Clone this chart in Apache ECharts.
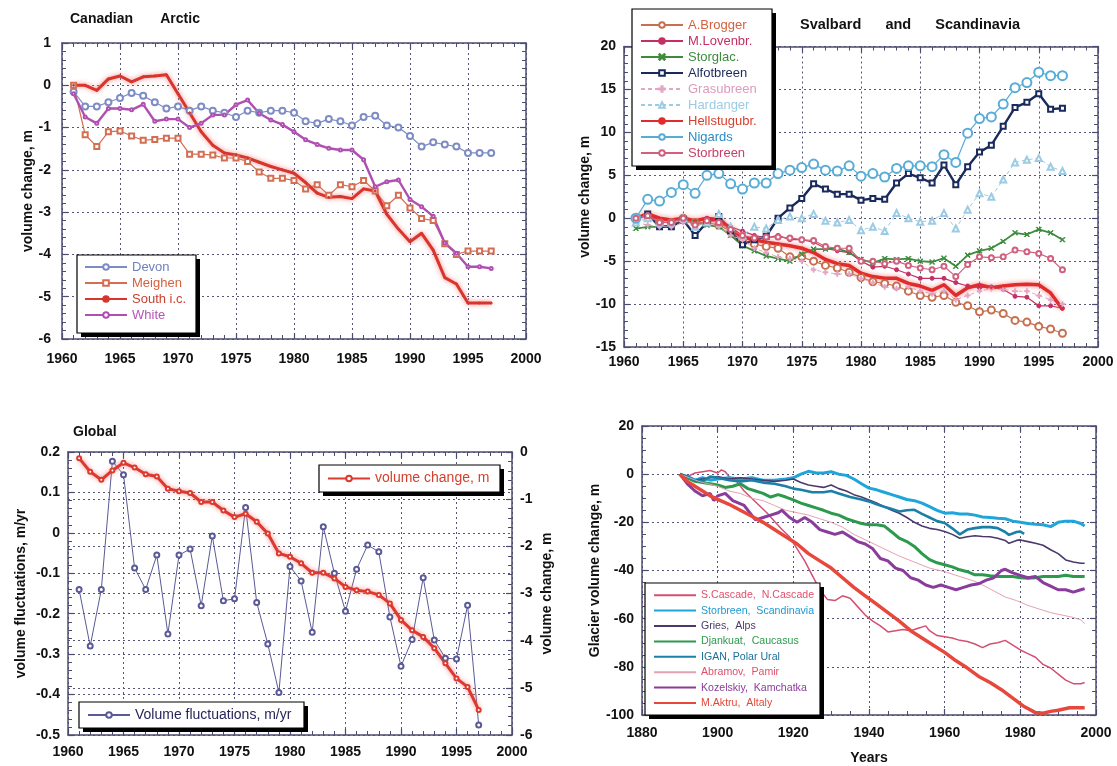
<!DOCTYPE html>
<html><head><meta charset="utf-8">
<script src="https://cdn.jsdelivr.net/npm/echarts@6/dist/echarts.min.js"></script>
<style>html,body{margin:0;padding:0;background:#fff}#c{width:1117px;height:766px}</style>
</head><body><div id="c"></div>
<script>
// ---------- DATA ----------
const years = [1961,1962,1963,1964,1965,1966,1967,1968,1969,1970,1971,1972,1973,1974,1975,1976,1977,1978,1979,1980,1981,1982,1983,1984,1985,1986,1987,1988,1989,1990,1991,1992,1993,1994,1995,1996,1997];

// Panel 1: Canadian Arctic
const devon   = [-0.15,-0.5,-0.5,-0.4,-0.3,-0.18,-0.25,-0.4,-0.55,-0.5,-0.6,-0.5,-0.6,-0.65,-0.75,-0.6,-0.65,-0.6,-0.6,-0.65,-0.85,-0.9,-0.8,-0.85,-0.95,-0.75,-0.72,-0.95,-1.0,-1.2,-1.45,-1.35,-1.4,-1.45,-1.6,-1.6,-1.6];
const meighen = [0.0,-1.17,-1.45,-1.1,-1.08,-1.2,-1.3,-1.28,-1.25,-1.25,-1.63,-1.63,-1.65,-1.72,-1.72,-1.8,-2.05,-2.2,-2.2,-2.25,-2.45,-2.35,-2.6,-2.35,-2.4,-2.25,-2.5,-2.85,-2.6,-2.9,-3.15,-3.2,-3.75,-4.0,-3.92,-3.92,-3.92];
const southIC = [0.0,0.0,-0.12,0.15,0.22,0.08,0.2,0.22,0.25,-0.2,-0.65,-1.1,-1.42,-1.6,-1.65,-1.72,-1.82,-1.92,-2.0,-2.08,-2.3,-2.55,-2.65,-2.63,-2.68,-2.45,-2.5,-3.05,-3.4,-3.7,-3.5,-3.9,-4.55,-4.7,-5.15,-5.15,-5.15];
const white   = [-0.2,-0.75,-0.9,-0.55,-0.55,-0.58,-0.45,-0.85,-0.8,-0.8,-1.0,-0.9,-0.7,-0.7,-0.46,-0.35,-0.66,-0.82,-0.93,-1.1,-1.29,-1.4,-1.49,-1.53,-1.53,-1.76,-2.4,-2.28,-2.24,-2.7,-2.87,-3.1,-3.73,-3.97,-4.29,-4.29,-4.33];

// Panel 2: Svalbard and Scandinavia
const aBrogger   = [0,0.3,-0.5,-0.5,0,-0.5,-0.5,-0.8,-1.5,-2.5,-3,-3.3,-3.5,-4.5,-4.5,-5,-5.5,-5.8,-6.3,-6.9,-7.4,-7.6,-7.9,-8.5,-9,-9.2,-9,-9.8,-10.2,-10.9,-10.7,-11.1,-11.9,-12.1,-12.6,-12.9,-13.4];
const mLovenbr   = [0,0.5,-0.3,-0.3,0,-0.5,0,0,-1,-1.5,-2,-2.3,-2,-2.5,-2.5,-2.8,-3.5,-3.8,-4,-5,-5.7,-5.6,-6,-6.5,-7,-7,-7,-7.5,-7.9,-8.1,-8,-8.3,-9.1,-9.2,-10.2,-10.2,-10.5];
const storglac   = [-1.2,-1,-1,-0.8,-0.3,-0.5,-0.8,-1,-2,-3.2,-3.8,-4.4,-4.7,-5,-4.2,-3.6,-3.6,-3.5,-4,-4.8,-5.2,-4.7,-4.8,-4.7,-5,-5.1,-4.65,-5.6,-4.3,-3.8,-3.5,-2.7,-1.7,-1.9,-1.3,-1.7,-2.5];
const alfotbreen = [0,0.5,-1,-1,-0.2,-2,-0.5,0.2,-1.5,-3.1,-2.5,-2.1,0,1.2,2.3,4,3.4,2.8,2.8,2.1,2.3,2.2,4.1,5.2,4.7,4.1,6.2,3.9,6,7.7,8.5,10.7,12.9,13.5,14.5,12.7,12.8];
const grasubreen = [-0.5,-0.8,-1,-1,-0.5,-1,-0.5,-1,-2,-2.5,-3.5,-4,-4.5,-4.7,-5,-6,-6.3,-6.5,-6.5,-7,-7.5,-8,-8.2,-8,-8.5,-8.8,-8.5,-9.5,-9,-8.5,-8.2,-8.3,-8.5,-8.5,-9,-9.5,-10];
const hardanger  = [-0.5,0,-0.5,-0.5,0,-1,-0.5,0.5,-1,-2,-1,-1.2,-0.2,0.2,0,0.5,-0.3,-0.5,-0.2,-1.4,-1,-1.5,0.6,0,-0.4,-0.3,0.6,-1.2,1,2.9,2.5,4.5,6.5,6.8,7,6,5.5];
const hellstugubr= [0,0.5,0,-0.2,0,-0.3,0,-0.2,-1.2,-2.2,-2.5,-2.8,-3,-3.2,-3.5,-4,-4.8,-5.3,-5.5,-6.4,-6.8,-7,-7,-7.6,-7.9,-8.4,-7.75,-9,-8.1,-7.75,-8.1,-7.9,-7.75,-7.7,-7.75,-8.7,-10.6];
const nigards    = [0,2.2,2,3,3.9,2.9,5,5.2,4,3.4,4.1,4.1,5.2,5.6,5.9,6.3,5.6,5.5,6.1,4.9,5.2,4.8,5.8,6.1,6.1,6,7.4,6.5,9.9,11.6,11.8,13.3,15.2,15.8,17,16.6,16.6];
const storbreen  = [0,0.3,-0.5,-0.5,0,-0.8,-0.3,-0.5,-1.3,-2,-2.3,-2.2,-2.2,-2.3,-2.5,-2.6,-3.3,-3.5,-3.5,-5,-5,-5.3,-5,-5.5,-5.8,-6,-5.6,-6.8,-5.4,-4.5,-4.6,-4.5,-3.7,-3.9,-4.1,-4.7,-6];

// Panel 3: Global
const fluct     = [-0.14,-0.28,-0.14,0.177,0.144,-0.087,-0.14,-0.055,-0.25,-0.055,-0.04,-0.18,-0.008,-0.168,-0.163,0.063,-0.172,-0.275,-0.395,-0.083,-0.119,-0.246,0.015,-0.1,-0.194,-0.09,-0.03,-0.047,-0.208,-0.33,-0.264,-0.111,-0.265,-0.31,-0.312,-0.179,-0.475];
const volChange = [-0.13,-0.42,-0.59,-0.39,-0.23,-0.33,-0.47,-0.52,-0.78,-0.83,-0.87,-1.06,-1.06,-1.24,-1.38,-1.31,-1.48,-1.73,-2.15,-2.22,-2.36,-2.56,-2.56,-2.68,-2.86,-2.93,-2.96,-3.03,-3.21,-3.56,-3.78,-3.92,-4.16,-4.48,-4.8,-4.98,-5.47];

// Panel 4: long records [year, m]
const sCascade = [[1890,0],[1892,-1],[1894,0.5],[1896,1],[1898,1.5],[1900,0.5],[1901,1.8],[1902,1],[1903,-1],[1905,-3],[1907,-7],[1909,-10],[1911,-13],[1913,-16],[1915,-19.5],[1917,-23],[1919,-26],[1921,-31],[1923,-36],[1925,-42],[1927,-48],[1929,-52],[1931,-52.5],[1933,-50.5],[1935,-51.5],[1937,-55],[1939,-58.5],[1941,-61],[1943,-63],[1945,-65.5],[1947,-65],[1949,-64.5],[1951,-65],[1953,-64],[1955,-63],[1956,-65],[1958,-67],[1960,-67.5],[1962,-68],[1964,-69],[1966,-69.5],[1968,-70.5],[1970,-72],[1972,-70.5],[1974,-70],[1976,-69],[1978,-71],[1980,-73],[1982,-74.5],[1984,-76],[1986,-79],[1988,-80.5],[1990,-83],[1992,-85.5],[1994,-87],[1996,-87],[1997,-86.5]];
const storbreenScand = [[1890,0],[1892,-1],[1894,-2.5],[1896,-1.5],[1898,-2.5],[1900,-2],[1903,-1.5],[1906,-2],[1909,-1.5],[1912,-2.5],[1915,-2.5],[1918,-2],[1920,-1.5],[1922,0],[1924,1.2],[1926,0.5],[1928,0.5],[1930,1],[1932,0],[1934,-0.5],[1936,-2],[1938,-4],[1940,-5.8],[1942,-6.5],[1944,-7.5],[1946,-8.5],[1948,-9.5],[1950,-10.5],[1952,-11],[1954,-12],[1956,-13.5],[1958,-15],[1960,-16.2],[1962,-16],[1964,-16.5],[1966,-16.5],[1968,-17],[1970,-17.8],[1972,-18],[1974,-18.3],[1976,-18.5],[1978,-19.5],[1980,-20],[1982,-20.5],[1984,-20.8],[1986,-21],[1988,-21.8],[1990,-20],[1992,-19.5],[1994,-19.5],[1996,-20.5],[1997,-21.5]];
const gries = [[1890,0],[1892,-1.5],[1894,-2.5],[1896,-2],[1898,-1.5],[1900,-1],[1903,-2],[1906,-1.5],[1909,-2],[1912,-2.5],[1915,-3],[1918,-2.5],[1920,-2],[1922,-3.5],[1924,-4.5],[1926,-5],[1928,-5.5],[1930,-4.5],[1932,-6],[1934,-7],[1936,-8.5],[1938,-9.5],[1940,-10.7],[1942,-12],[1944,-13.5],[1946,-15],[1948,-16.2],[1950,-18],[1952,-20],[1954,-21.5],[1956,-22.5],[1958,-23],[1960,-23.8],[1962,-25],[1964,-26.6],[1966,-26],[1968,-25.6],[1970,-25.9],[1972,-26],[1974,-26.6],[1976,-27.5],[1977,-28.7],[1979,-27.5],[1980,-27.3],[1982,-28],[1984,-28.7],[1986,-29.5],[1988,-31.4],[1990,-33],[1992,-35.6],[1994,-36.5],[1996,-37],[1997,-37]];
const djankuat = [[1890,0],[1892,-1.5],[1894,-3],[1896,-3.5],[1898,-4],[1900,-4.5],[1902,-5.5],[1904,-5],[1906,-4],[1908,-6],[1910,-7],[1912,-8],[1914,-9.5],[1916,-8.5],[1918,-9.5],[1920,-10.7],[1922,-12],[1924,-13],[1926,-14],[1928,-15],[1930,-16.2],[1932,-17],[1934,-18.5],[1936,-19.5],[1938,-20.5],[1940,-21],[1942,-21],[1944,-21.5],[1946,-24],[1948,-26.6],[1950,-28],[1952,-30],[1954,-33],[1956,-35.5],[1958,-36.8],[1960,-37.6],[1962,-38.5],[1964,-39.7],[1966,-40.5],[1968,-41.8],[1970,-41.8],[1972,-42.2],[1974,-42.5],[1976,-42.5],[1978,-42.5],[1980,-43],[1982,-43.2],[1984,-43],[1986,-42.5],[1988,-42.5],[1990,-42.5],[1992,-42],[1994,-42.5],[1996,-42.5],[1997,-42.5]];
const igan = [[1890,0],[1892,-1],[1894,-2.5],[1896,-3],[1898,-1],[1900,-1.5],[1903,-2.5],[1906,-3],[1909,-2.5],[1912,-3.5],[1915,-4],[1918,-5],[1920,-6],[1922,-6.5],[1925,-7.5],[1928,-7.5],[1930,-7],[1932,-8],[1935,-9.5],[1938,-10.5],[1940,-11.3],[1942,-12.5],[1944,-13.5],[1946,-14.5],[1948,-15.5],[1950,-15],[1952,-14.8],[1954,-16.5],[1956,-18],[1958,-19.5],[1960,-20.3],[1962,-22.5],[1964,-25],[1966,-23],[1968,-22.4],[1970,-22],[1972,-22],[1974,-22.4],[1976,-24],[1977,-25.2],[1979,-24],[1980,-23.8],[1981,-24.8]];
const abramov = [[1890,0],[1895,-3],[1900,-5],[1903,-7],[1906,-8],[1909,-10],[1912,-11],[1915,-13],[1918,-15],[1921,-16],[1924,-17],[1927,-18.5],[1930,-20],[1933,-22],[1936,-25],[1940,-28],[1944,-31],[1948,-34],[1952,-36.5],[1956,-39],[1960,-40.5],[1964,-42.5],[1968,-44.5],[1970,-46],[1973,-48.5],[1976,-51],[1979,-52.5],[1982,-54.5],[1985,-56],[1988,-57.5],[1991,-58.5],[1994,-59.5],[1996,-60.5],[1997,-62]];
const kozelskiy = [[1890,0],[1892,-4],[1894,-7],[1896,-9],[1898,-8],[1899,-11],[1900,-9],[1902,-8],[1904,-11],[1907,-13],[1909,-17],[1910,-19],[1912,-18],[1914,-17],[1916,-16],[1917,-15],[1919,-18],[1921,-20],[1923,-18],[1925,-20],[1927,-23],[1929,-24],[1931,-25],[1933,-24],[1935,-26],[1937,-28],[1939,-29],[1941,-31],[1943,-35],[1945,-36],[1947,-39],[1949,-40],[1951,-43],[1953,-44],[1955,-46],[1957,-47],[1959,-46],[1961,-47],[1963,-48],[1965,-47],[1967,-46],[1969,-45.5],[1971,-44],[1973,-43],[1975,-40],[1976,-39.5],[1978,-41],[1980,-42],[1982,-43],[1984,-42.5],[1986,-45],[1988,-46.5],[1990,-48],[1992,-48],[1994,-49],[1996,-48],[1997,-47.5]];
const mAktru = [[1890,0],[1892,-3],[1894,-5],[1896,-7],[1898,-9],[1900,-10.5],[1903,-12.5],[1906,-15],[1909,-17.5],[1912,-20],[1915,-23],[1918,-26],[1921,-29],[1924,-33],[1927,-36],[1930,-39],[1933,-43],[1936,-47],[1939,-50.5],[1942,-54],[1945,-57.5],[1948,-61],[1951,-65],[1954,-68],[1957,-71],[1960,-74],[1963,-77.5],[1966,-80.5],[1969,-84],[1972,-86.5],[1975,-89.5],[1978,-93],[1981,-96.5],[1984,-99],[1986,-99.3],[1988,-98.5],[1990,-98],[1993,-97],[1995,-97],[1997,-97]];

// ---------- STYLE / LAYOUT ----------
const FONT = '"Liberation Sans", Arial, sans-serif';
const AX = '#4c4c70';
const GRIDC = '#55557a';
const grids = [
  {left: 62, top: 43, width: 464, height: 296},
  {left: 624, top: 46.5, width: 474, height: 300.5},
  {left: 68, top: 452, width: 444, height: 283},
  {left: 642, top: 426, width: 454, height: 289}
];
const xAxes = [], yAxes = [];
const labelStyle = {show: true, color: '#111', fontFamily: FONT, fontSize: 14, fontWeight: 'bold', margin: 8};
const splitStyle = {show: true, lineStyle: {color: GRIDC, type: [2, 3], width: 1}};
function base(min, max, interval, minor) {
  return {type: 'value', min, max, interval,
    axisLine: {show: true, onZero: false, lineStyle: {color: AX, width: 1.5}},
    axisTick: {show: true, inside: true, length: 6, lineStyle: {color: AX, width: 1.2}},
    minorTick: {show: true, splitNumber: minor, length: 4, lineStyle: {color: AX, width: 1}},
    splitLine: {show: false}, minorSplitLine: {show: false}, axisLabel: {show: false}};
}
const nameStyle = {fontFamily: FONT, fontSize: 14, fontWeight: 'bold', color: '#111'};
function addPanel(g, xr, yr, extra) {
  const bx = base(xr[0], xr[1], xr[2], xr[3]);
  Object.assign(bx, {gridIndex: g, position: 'bottom', axisLabel: Object.assign({}, labelStyle, {formatter: v => String(v), margin: extra.xm}), splitLine: splitStyle}, extra.x || {});
  const tx = base(xr[0], xr[1], xr[2], xr[3]);
  Object.assign(tx, {gridIndex: g, position: 'top'});
  const ly = base(yr[0], yr[1], yr[2], yr[3]);
  Object.assign(ly, {gridIndex: g, position: 'left',
    axisLabel: Object.assign({}, labelStyle, {formatter: extra.yfmt || (v => String(v)), margin: extra.ym}), splitLine: splitStyle,
    name: extra.yname, nameLocation: 'middle', nameGap: extra.ygap, nameRotate: 90, nameTextStyle: nameStyle});
  let ry;
  if (extra.ry) {
    const r = extra.ry;
    ry = base(r[0], r[1], r[2], r[3]);
    Object.assign(ry, {gridIndex: g, position: 'right', axisLabel: Object.assign({}, labelStyle, {formatter: v => String(v)}), splitLine: splitStyle,
      name: extra.ryname, nameLocation: 'middle', nameGap: extra.rygap, nameRotate: 90, nameTextStyle: nameStyle});
  } else {
    ry = base(yr[0], yr[1], yr[2], yr[3]);
    Object.assign(ry, {gridIndex: g, position: 'right'});
  }
  xAxes.push(bx, tx); yAxes.push(ly, ry);
}
addPanel(0, [1960, 2000, 5, 5], [-6, 1, 1, 5], {yname: 'volume change, m', ygap: 24, xm: 13, ym: 11});
addPanel(1, [1960, 2000, 5, 5], [-15, 20, 5, 5], {yname: 'volume change, m', ygap: 30, xm: 8, ym: 8});
addPanel(2, [1960, 2000, 5, 5], [-0.5, 0.2, 0.1, 5], {yname: 'volume fluctuations, m/yr', ygap: 40, xm: 10, ym: 8,
  yfmt: v => String(Math.round(v * 10) / 10), ry: [-6, 0, 1, 5], ryname: 'volume change, m', rygap: 28});
addPanel(3, [1880, 2000, 20, 4], [-100, 20, 20, 4], {yname: 'Glacier volume change, m', ygap: 40, xm: 11, ym: 8,
  x: {name: 'Years', nameLocation: 'middle', nameGap: 36, nameTextStyle: nameStyle}});

const series = [];
function S(name, panel, yIdx, data, color, width, symbol, size, extra) {
  const s = Object.assign({
    name, type: 'line', xAxisIndex: panel * 2, yAxisIndex: panel * 2 + yIdx,
    data, color, symbol: symbol || 'none', symbolSize: size || 4, showSymbol: !!symbol,
    lineStyle: {color, width}, itemStyle: {color, borderColor: color, borderWidth: 1},
    animation: false, silent: true
  }, extra || {});
  series.push(s);
}
const zip = vals => years.map((y, i) => [y, vals[i]]);
const glow = (c, w) => ({lineStyle: {color: c, width: w || 3, shadowBlur: 5, shadowColor: 'rgba(245,120,120,0.9)'}});
const XSYM = 'path://M0,1L1,0L5,4L9,0L10,1L6,5L10,9L9,10L5,6L1,10L0,9L4,5Z';
const PSYM = 'path://M4,0H6V4H10V6H6V10H4V6H0V4H4Z';

// panel 1
S('Devon', 0, 0, zip(devon), '#7d8cc4', 1.2, 'emptyCircle', 6);
S('Meighen', 0, 0, zip(meighen), '#d46e52', 1.2, 'emptyRect', 5);
S('South i.c.', 0, 0, zip(southIC), '#d8352c', 3, 'circle', 2, glow('#d8352c'));
S('White', 0, 0, zip(white), '#b04fb2', 2.4, 'emptyCircle', 3);
// panel 2
S('A.Brogger', 1, 0, zip(aBrogger), '#c7704f', 1.2, 'emptyCircle', 7);
S('M.Lovenbr.', 1, 0, zip(mLovenbr), '#c43064', 1.2, 'circle', 4);
S('Storglac.', 1, 0, zip(storglac), '#3c8c3c', 1.8, XSYM, 5);
S('Alfotbreen', 1, 0, zip(alfotbreen), '#1b2a5c', 2.4, 'emptyRect', 5);
S('Grasubreen', 1, 0, zip(grasubreen), '#e3a6c6', 1, PSYM, 5, {lineStyle: {color: '#e3a6c6', width: 1, type: [4, 3]}});
S('Hardanger', 1, 0, zip(hardanger), '#9ccbe4', 1, 'emptyTriangle', 6, {lineStyle: {color: '#9ccbe4', width: 1, type: [4, 3]}});
S('Hellstugubr.', 1, 0, zip(hellstugubr), '#e02c2c', 3.5, 'circle', 2, glow('#e02c2c', 3.5));
S('Nigards', 1, 0, zip(nigards), '#58acd6', 1.2, 'emptyCircle', 9);
S('Storbreen', 1, 0, zip(storbreen), '#d0607e', 1.2, 'emptyCircle', 5);
// panel 3
S('Volume fluctuations, m/yr', 2, 0, zip(fluct), '#5a5a96', 1, 'emptyCircle', 5);
S('volume change, m', 2, 1, zip(volChange), '#dc3a2e', 3, 'emptyCircle', 4, glow('#dc3a2e'));
// panel 4
S('S.Cascade,  N.Cascade', 3, 0, sCascade, '#d44f72', 1.5);
S('Storbreen,  Scandinavia', 3, 0, storbreenScand, '#1ea6da', 3);
S('Gries,  Alps', 3, 0, gries, '#4a3a6c', 1.6);
S('Djankuat,  Caucasus', 3, 0, djankuat, '#2c9a4c', 3);
S('IGAN, Polar Ural', 3, 0, igan, '#1b7fa6', 2.6);
S('Abramov,  Pamir', 3, 0, abramov, '#e4a2b2', 1);
S('Kozelskiy,  Kamchatka', 3, 0, kozelskiy, '#8a3c9c', 3);
S('M.Aktru,  Altaly', 3, 0, mAktru, '#e8473c', 3.5);

// legend boxes: [x, y, w, h]
const boxes = [[77, 255, 119, 78], [632, 9, 140, 157], [319, 465, 181, 27], [79, 702, 225, 26], [645, 583, 175, 132]];
const graphic = [];
boxes.forEach(([x, y, w, h]) => {
  graphic.push({type: 'rect', z: 10, silent: true, shape: {x: x + 4, y: y + 4, width: w, height: h}, style: {fill: '#000'}});
  graphic.push({type: 'rect', z: 11, silent: true, shape: {x, y, width: w, height: h}, style: {fill: '#fff', stroke: '#000', lineWidth: 1.2}});
});

function legendAt(left, top, items, fs, lh, opt) {
  return Object.assign({
    left, top, orient: 'vertical', selectedMode: false, z: 20,
    backgroundColor: 'transparent', borderWidth: 0, padding: 0,
    itemWidth: 42, itemHeight: 7, itemGap: 0,
    data: items.map(([n, c]) => ({name: n, textStyle: {color: c}})),
    textStyle: {fontFamily: FONT, fontSize: fs, lineHeight: lh}
  }, opt || {});
}
const titleStyle = {fontFamily: FONT, fontSize: 14, fontWeight: 'bold', color: '#111'};

const option = {
  backgroundColor: '#fff',
  animation: false,
  grid: grids,
  xAxis: xAxes,
  yAxis: yAxes,
  series,
  graphic,
  title: [
    {text: 'Canadian       Arctic', left: 70, top: 12, padding: 0, textStyle: titleStyle},
    {text: 'Svalbard      and      Scandinavia', left: 800, top: 17, padding: 0, textStyle: Object.assign({}, titleStyle, {fontSize: 14.5})},
    {text: 'Global', left: 73, top: 425, padding: 0, textStyle: titleStyle}
  ],
  legend: [
    legendAt(84, 259, [['Devon', '#6f7fbc'], ['Meighen', '#d4603e'], ['South i.c.', '#c8402e'], ['White', '#b455b6']], 13, 16),
    legendAt(640, 17, [['A.Brogger', '#d4603e'], ['M.Lovenbr.', '#c43064'], ['Storglac.', '#3c8c3c'], ['Alfotbreen', '#1b2a5c'], ['Grasubreen', '#dc9cbc'], ['Hardanger', '#9ccbe4'], ['Hellstugubr.', '#d8402e'], ['Nigards', '#2a8cc4'], ['Storbreen', '#c8406a']], 13, 16),
    legendAt(327, 470.5, [['volume change, m', '#d4402e']], 14, 16),
    legendAt(87, 707, [['Volume fluctuations, m/yr', '#26265a']], 14, 16),
    legendAt(653, 587.5, [['S.Cascade,  N.Cascade', '#e0506c'], ['Storbreen,  Scandinavia', '#1e9ad0'], ['Gries,  Alps', '#4a3a6c'], ['Djankuat,  Caucasus', '#2c9a4c'], ['IGAN, Polar Ural', '#1b6f9a'], ['Abramov,  Pamir', '#e0506c'], ['Kozelskiy,  Kamchatka', '#8a3c9c'], ['M.Aktru,  Altaly', '#e04a3c']], 10.6, 15.4, {itemStyle: {opacity: 0}})
  ]
};
const chart = echarts.init(document.getElementById('c'), null, {renderer: 'canvas'});
chart.setOption(option);
</script></body></html>
